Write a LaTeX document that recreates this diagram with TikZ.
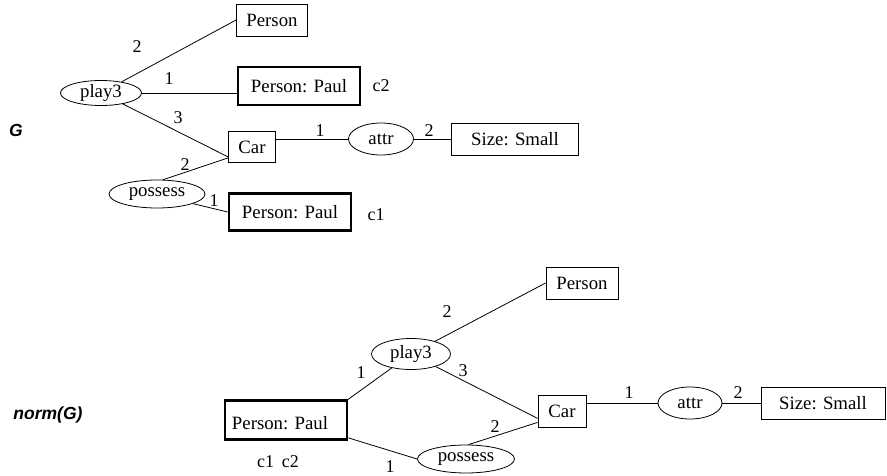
\documentclass[tikz,border=0pt]{standalone}
\usepackage{fontspec}
\setmainfont{Liberation Serif}
\newfontfamily\labelsans{Liberation Sans}
\usetikzlibrary{shapes.geometric}
\begin{document}
\begin{tikzpicture}[x=1pt,y=-1pt,
  every node/.style={inner sep=0pt},
  cbox/.style={draw, rectangle, line width=0.8pt, font=\fontsize{18.8}{22}\selectfont},
  heavybox/.style={cbox, line width=2.8pt},
  rel/.style={draw, ellipse, line width=0.8pt, font=\fontsize{18.8}{22}\selectfont},
  arc/.style={line width=0.8pt},
  num/.style={font=\fontsize{18}{21}\selectfont},
  gname/.style={font=\labelsans\bfseries\itshape\fontsize{17.5}{20}\selectfont},
]
\useasboundingbox (0,0) rectangle (887,476);

% ---------- graph G ----------
\node[gname] (gG) at (16,130) {G};

\node[cbox, minimum width=71pt, minimum height=32pt] (personA) at (272,20) {Person};
\node[rel, minimum width=81pt, minimum height=25pt] (playA) at (101,93) {play3};
\node[heavybox, minimum width=122pt, minimum height=38pt] (paulTwo) at (299,86) {Person: Paul};
\node[num] (cTwo) at (381,86) {c2};
\node[cbox, minimum width=47pt, minimum height=31pt] (carA) at (252,147) {Car};
\node[rel, minimum width=65pt, minimum height=32pt] (attrA) at (381,139) {attr};
\node[cbox, minimum width=127pt, minimum height=32pt] (sizeA) at (515,139) {Size: Small};
\node[rel, minimum width=96pt, minimum height=28pt] (possA) at (157,194) {possess};
\node[heavybox, minimum width=122pt, minimum height=37pt] (paulOne) at (290,212) {Person: Paul};
\node[num] (cOne) at (376,215) {c1};

\draw[arc] (playA) -- (personA.west);
\draw[arc] (playA.east) -- (playA.east -| paulTwo.west);
\draw[arc] (playA) -- ([yshift=6pt]carA.south west);
\draw[arc] (possA.67) -- ([yshift=5pt]carA.south west);
\draw[arc] (possA.-15) -- (paulOne.west);
\draw[arc] (attrA.west) -- (attrA.west -| carA.east);
\draw[arc] (attrA.east) -- (sizeA.west);

\node[num] (lA1) at (137,47) {2};
\node[num] (lA2) at (169,79) {1};
\node[num] (lA3) at (178,118) {3};
\node[num] (lA4) at (185,165) {2};
\node[num] (lA5) at (320,131) {1};
\node[num] (lA6) at (429,131) {2};
\node[num] (lA7) at (214,201) {1};

% ---------- graph norm(G) ----------
\node[gname] (gN) at (48,415) {norm(G)};

\node[cbox, minimum width=72pt, minimum height=32pt] (personB) at (582,283) {Person};
\node[rel, minimum width=79pt, minimum height=31pt] (playB) at (411,354) {play3};
% the merged concept: its text sits a little left of and below the box centre
\node[heavybox, minimum width=122pt, minimum height=39pt,
      label={[font=\fontsize{18.8}{22}\selectfont, xshift=-6pt, yshift=-3pt]center:{Person: Paul}}]
      (paulB) at (286,420) {};
\node[num] (cBoth) at (278,462) {c1\hspace{8pt}c2};
\node[cbox, minimum width=48pt, minimum height=32pt] (carB) at (562,411) {Car};
\node[rel, minimum width=64pt, minimum height=32pt] (attrB) at (690,403) {attr};
\node[cbox, minimum width=124pt, minimum height=32pt] (sizeB) at (823,403) {Size: Small};
\node[rel, minimum width=97pt, minimum height=28pt] (possB) at (466,459) {possess};

\draw[arc] (playB) -- (personB.west);
\draw[arc] ([xshift=-4pt,yshift=-3pt]paulB.north east) -- (playB);
\draw[arc] (playB) -- ([yshift=9pt]carB.south west);
\draw[arc] ([yshift=3pt]paulB.south east) -- (possB.west);
\draw[arc] (possB.80) -- ([yshift=5pt]carB.south west);
\draw[arc] (attrB.west) -- (attrB.west -| carB.east);
\draw[arc] (attrB.east) -- (sizeB.west);

\node[num] (lB1) at (447,312) {2};
\node[num] (lB2) at (361,373) {1};
\node[num] (lB3) at (463,371) {3};
\node[num] (lB4) at (495,427) {2};
\node[num] (lB5) at (629,393) {1};
\node[num] (lB6) at (738,393) {2};
\node[num] (lB7) at (390,467) {1};
\end{tikzpicture}
\end{document}
